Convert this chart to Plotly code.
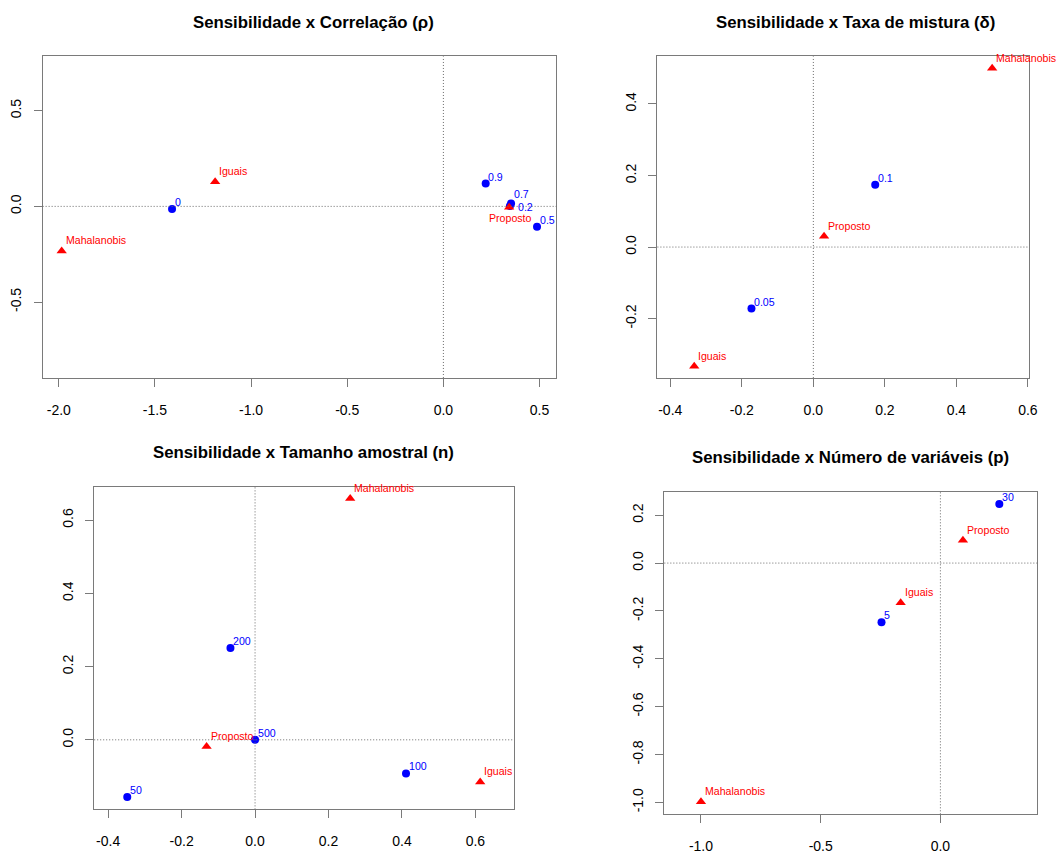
import plotly.graph_objects as go

W, H = 1064, 854

# ---------------- data ----------------
methods = ["Mahalanobis", "Iguais", "Proposto"]

# Panel 1: Correlação (rho)
rho_labels = ["0", "0.2", "0.5", "0.7", "0.9"]
rho_x = [-1.411, 0.346, 0.487, 0.352, 0.220]
rho_y = [-0.014, 0.002, -0.107, 0.015, 0.119]
rho_mx = [-1.985, -1.187, 0.342]
rho_my = [-0.233, 0.129, -0.004]

# Panel 2: Taxa de mistura (delta)
delta_labels = ["0.05", "0.1"]
delta_x = [-0.173, 0.173]
delta_y = [-0.172, 0.174]
delta_mx = [0.500, -0.333, 0.030]
delta_my = [0.500, -0.333, 0.030]

# Panel 3: Tamanho amostral (n)
n_labels = ["50", "100", "200", "500"]
n_x = [-0.348, 0.411, -0.067, 0.000]
n_y = [-0.156, -0.092, 0.251, 0.000]
n_mx = [0.259, 0.613, -0.132]
n_my = [0.659, -0.115, -0.018]

# Panel 4: Número de variáveis (p)
p_labels = ["5", "30"]
p_x = [-0.246, 0.246]
p_y = [-0.247, 0.247]
p_mx = [-1.000, -0.166, 0.094]
p_my = [-0.997, -0.166, 0.095]

# tick values
rho_xticks = [-2.0, -1.5, -1.0, -0.5, 0.0, 0.5]
rho_yticks = [-0.5, 0.0, 0.5]
delta_xticks = [-0.4, -0.2, 0.0, 0.2, 0.4, 0.6]
delta_yticks = [-0.2, 0.0, 0.2, 0.4]
n_xticks = [-0.4, -0.2, 0.0, 0.2, 0.4, 0.6]
n_yticks = [0.0, 0.2, 0.4, 0.6]
p_xticks = [-1.0, -0.5, 0.0]
p_yticks = [-1.0, -0.8, -0.6, -0.4, -0.2, 0.0, 0.2]

titles = [
    "Sensibilidade x Correlação (ρ)",
    "Sensibilidade x Taxa de mistura (δ)",
    "Sensibilidade x Tamanho amostral (n)",
    "Sensibilidade x Número de variáveis (p)",
]

# ---------------- layout (pixel boxes) ----------------
# label placement: "ur" = upper right (default), "r" = right, "b" = below, "u2" = raised
panels = [
    dict(box=(43, 561, 57, 382), xr=(-2.084, 0.587), yr=(-0.897, 0.784),
         bx=rho_x, by=rho_y, bl=rho_labels, mx=rho_mx, my=rho_my,
         xt=rho_xticks, yt=rho_yticks, ty=22.5, tdx=14.5,
         bpos={"0.2": "r", "0.7": "u2"}, mpos={"Proposto": "b"}),
    dict(box=(663, 1038, 57, 382), xr=(-0.436, 0.6036), yr=(-0.366, 0.533),
         bx=delta_x, by=delta_y, bl=delta_labels, mx=delta_mx, my=delta_my,
         xt=delta_xticks, yt=delta_yticks, ty=22.5, tdx=12.5, bpos={}, mpos={}),
    dict(box=(95, 518, 492, 818), xr=(-0.438, 0.704), yr=(-0.19, 0.691),
         bx=n_x, by=n_y, bl=n_labels, mx=n_mx, my=n_my,
         xt=n_xticks, yt=n_yticks, ty=457, tdx=0, bpos={}, mpos={}),
    dict(box=(670, 1046, 497, 823), xr=(-1.153, 0.404), yr=(-1.050, 0.298),
         bx=p_x, by=p_y, bl=p_labels, mx=p_mx, my=p_my,
         xt=p_xticks, yt=p_yticks, ty=462, tdx=0, bpos={}, mpos={}),
]

FONT = "Liberation Sans, Arial, sans-serif"
LINE = "#7a7a7a"
BLUE = "#0000ff"
RED = "#ff0000"
LBL = 10.6

fig = go.Figure()
layout = dict(
    width=W, height=H, margin=dict(l=0, r=0, t=0, b=0),
    paper_bgcolor="white", plot_bgcolor="white", showlegend=False,
    font=dict(family=FONT, color="black"),
)
shapes = []
annotations = []


def label(text, x, y, xa, ya, color, where, tri):
    if where == "r":
        a = dict(xanchor="left", yanchor="middle", xshift=7, yshift=-1.5)
    elif where == "b":
        a = dict(xanchor="center", yanchor="top", xshift=1, yshift=-4)
    elif where == "u2":
        a = dict(xanchor="left", yanchor="bottom", xshift=1.5, yshift=3)
    elif tri:
        a = dict(xanchor="left", yanchor="bottom", xshift=3, yshift=3.5)
    else:
        a = dict(xanchor="left", yanchor="bottom", xshift=1.5, yshift=0)
    return dict(text=text, x=x, y=y, xref=xa, yref=ya, showarrow=False,
                borderpad=0, font=dict(size=LBL, color=color, family=FONT), **a)


for i, p in enumerate(panels, start=1):
    xa = "x" if i == 1 else f"x{i}"
    ya = "y" if i == 1 else f"y{i}"
    x0, x1, y0, y1 = p["box"]
    common = dict(
        showgrid=False, zeroline=False, showline=True, mirror=True,
        linecolor=LINE, linewidth=1, ticks="outside", ticklen=8,
        tickcolor=LINE, tickwidth=1,
        tickfont=dict(size=14, family=FONT, color="black"),
    )
    layout[f"xaxis{'' if i == 1 else i}"] = dict(
        domain=[x0 / W, x1 / W], anchor=ya, range=list(p["xr"]),
        tickvals=p["xt"], ticktext=[f"{v:.1f}" for v in p["xt"]],
        ticklabelstandoff=11, **common)
    layout[f"yaxis{'' if i == 1 else i}"] = dict(
        domain=[1 - y1 / H, 1 - y0 / H], anchor=xa, range=list(p["yr"]),
        tickvals=p["yt"], ticktext=[f"{v:.1f}" for v in p["yt"]],
        tickangle=-90, ticklabelstandoff=7, **common)
    # dotted reference lines
    shapes.append(dict(type="line", xref=f"{xa} domain", yref=ya, x0=0, x1=1,
                       y0=0, y1=0, line=dict(color="#6a6a6a", width=1, dash="1px,2px")))
    shapes.append(dict(type="line", xref=xa, yref=f"{ya} domain", x0=0, x1=0,
                       y0=0, y1=1, line=dict(color="#6a6a6a", width=1, dash="1px,2px")))
    # title
    annotations.append(dict(text=f"<b>{titles[i-1]}</b>", xref="paper", yref="paper",
                            x=((x0 + x1) / 2 + p["tdx"]) / W, y=1 - p["ty"] / H,
                            xanchor="center", yanchor="middle", showarrow=False,
                            font=dict(size=16.8, family=FONT, color="black")))
    # blue points (levels)
    fig.add_trace(go.Scatter(
        x=p["bx"], y=p["by"], mode="markers", xaxis=xa, yaxis=ya, cliponaxis=False,
        marker=dict(symbol="circle", size=8, color=BLUE), hoverinfo="skip"))
    # red triangles (methods)
    fig.add_trace(go.Scatter(
        x=p["mx"], y=p["my"], mode="markers", xaxis=xa, yaxis=ya, cliponaxis=False,
        marker=dict(symbol="triangle-up", size=9, color=RED), hoverinfo="skip"))
    for t, x, y in zip(p["bl"], p["bx"], p["by"]):
        annotations.append(label(t, x, y, xa, ya, BLUE, p["bpos"].get(t, "ur"), False))
    for t, x, y in zip(methods, p["mx"], p["my"]):
        annotations.append(label(t, x, y, xa, ya, RED, p["mpos"].get(t, "ur"), True))

layout["shapes"] = shapes
layout["annotations"] = annotations
fig.update_layout(**layout)
fig.write_html(
    "out.html",
    config={"displayModeBar": False, "staticPlot": True},
    post_script=(
        "document.documentElement.style.margin='0';"
        "document.body.style.margin='0';"
        "document.documentElement.style.overflow='hidden';"
        "document.body.style.overflow='hidden';"
        "var d=document.getElementById('{plot_id}');"
        "d.style.position='absolute';d.style.left='0px';d.style.top='0px';"
    ),
)
